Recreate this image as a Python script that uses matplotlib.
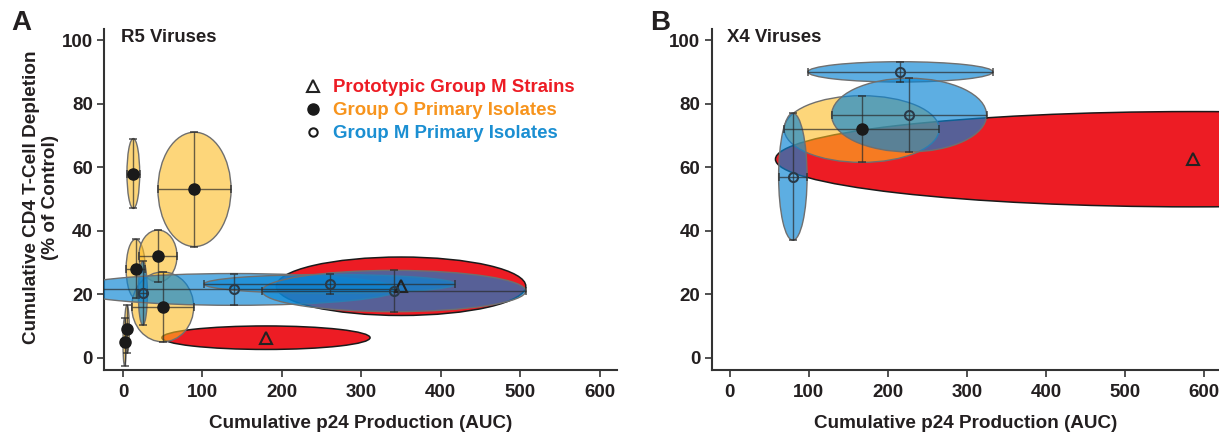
import matplotlib
matplotlib.use("Agg")
import matplotlib.pyplot as plt
from matplotlib.patches import Ellipse
from matplotlib.lines import Line2D

plt.rcParams['font.family'] = ['Liberation Sans', 'DejaVu Sans']
plt.rcParams['font.weight'] = 'bold'

# ---------------- data ----------------
# Panel A (R5 viruses)
a_proto_x = [180, 350]
a_proto_y = [6.3, 22.5]
a_proto_xerr = [131, 157]
a_proto_yerr = [3.7, 9.2]

a_grpO_x = [13, 90, 16, 44, 50, 5, 2]
a_grpO_y = [58, 53, 28, 32, 16, 9, 5]
a_grpO_xerr = [8, 46, 12, 24, 39, 3, 2]
a_grpO_yerr = [11, 18, 9.3, 8.2, 11, 7.6, 7.5]

a_grpM_x = [25, 140, 260, 341]
a_grpM_y = [20.3, 21.5, 23.2, 21]
a_grpM_xerr = [5.7, 206, 158, 166]
a_grpM_yerr = [10, 5, 3, 6.5]

# Panel B (X4 viruses)
b_proto_x = [586]
b_proto_y = [62.5]
b_proto_xerr = [528]
b_proto_yerr = [15]

b_grpO_x = [167]
b_grpO_y = [72]
b_grpO_xerr = [98]
b_grpO_yerr = [10.5]

b_grpM_x = [216, 227, 80]
b_grpM_y = [90, 76.4, 57]
b_grpM_xerr = [117, 98, 18]
b_grpM_yerr = [3.2, 11.6, 20]

x_ticks = [0, 100, 200, 300, 400, 500, 600]
y_ticks = [0, 20, 40, 60, 80, 100]
legend_labels = ["Prototypic Group M Strains", "Group O Primary Isolates", "Group M Primary Isolates"]

# ---------------- style ----------------
RED = (237/255, 28/255, 36/255, 1.0)
YEL = (253/255, 187/255, 33/255, 0.6)
BLU = (9/255, 133/255, 212/255, 0.66)
LBL_RED = '#ED1C24'
LBL_ORG = '#F7941D'
LBL_BLU = '#1B8FD2'
SPINE = '#333333'
TXT = '#231F20'

W, H = 1219, 432
fig = plt.figure(figsize=(W/100, H/100), dpi=100)

AX_BOT, AX_TOP = 370, 29
axA = fig.add_axes([104/W, 1-AX_BOT/H, (616.6-104)/W, (AX_BOT-AX_TOP)/H])
axB = fig.add_axes([711.5/W, 1-AX_BOT/H, (1219-711.5)/W, (AX_BOT-AX_TOP)/H])


def ellipses(ax, xs, ys, xe, ye, face, edge, lw, z):
    for x, y, a, b in zip(xs, ys, xe, ye):
        ax.add_patch(Ellipse((x, y), 2*a, 2*b, facecolor=face, edgecolor=edge,
                             linewidth=lw, zorder=z))


def crosses(ax, xs, ys, xe, ye):
    ax.errorbar(xs, ys, xerr=xe, yerr=ye, fmt='none', ecolor='#2a2a2a', elinewidth=1.0,
                capsize=3, capthick=1.3, alpha=0.7, zorder=4)


def panel(ax, px, py, pxe, pye, ox, oy, oxe, oye, mx, my, mxe, mye, xlim):
    ellipses(ax, px, py, pxe, pye, RED, '#1a1a1a', 1.1, 1)
    ellipses(ax, ox, oy, oxe, oye, YEL, '#6f6f6f', 1.0, 2)
    ellipses(ax, mx, my, mxe, mye, BLU, '#6f6f6f', 1.0, 3)
    crosses(ax, ox, oy, oxe, oye)
    crosses(ax, mx, my, mxe, mye)
    ax.plot(px, py, ls='none', marker='^', ms=8, mfc='none', mec='#222222', mew=1.5, zorder=6)
    ax.plot(ox, oy, ls='none', marker='o', ms=8, mfc='#1a1a1a', mec='#1a1a1a', zorder=6)
    ax.plot(mx, my, ls='none', marker='o', ms=6.5, mfc='none', mec='#2a3a48', mew=1.5, zorder=6)
    ax.set_xlim(*xlim)
    ax.set_ylim(-3.87, 103.5)
    ax.set_xticks(x_ticks)
    ax.set_yticks(y_ticks)
    for s in ['top', 'right']:
        ax.spines[s].set_visible(False)
    for s in ['left', 'bottom']:
        ax.spines[s].set_color(SPINE)
        ax.spines[s].set_linewidth(1.5)
    ax.tick_params(direction='out', length=5, width=1.2, color=SPINE, labelsize=13.5,
                   labelcolor=TXT)
    ax.tick_params(axis='x', pad=5)
    ax.tick_params(axis='y', pad=3)
    for lab in ax.get_xticklabels() + ax.get_yticklabels():
        lab.set_fontweight('bold')
    ax.set_xlabel('Cumulative p24 Production (AUC)', fontsize=13.6, fontweight='bold',
                  color=TXT, va='center')
    ax.xaxis.set_label_coords(0.5, (AX_BOT-423)/(AX_BOT-AX_TOP))
    ax.set_facecolor('none')


panel(axA, a_proto_x, a_proto_y, a_proto_xerr, a_proto_yerr,
      a_grpO_x, a_grpO_y, a_grpO_xerr, a_grpO_yerr,
      a_grpM_x, a_grpM_y, a_grpM_xerr, a_grpM_yerr, (-23.9, 621.3))
panel(axB, b_proto_x, b_proto_y, b_proto_xerr, b_proto_yerr,
      b_grpO_x, b_grpO_y, b_grpO_xerr, b_grpO_yerr,
      b_grpM_x, b_grpM_y, b_grpM_xerr, b_grpM_yerr, (-22.9, 619.0))

axA.set_ylabel('Cumulative CD4 T-Cell Depletion\n(% of Control)', fontsize=13.6,
               fontweight='bold', color=TXT, linespacing=1.1, va='center')
axA.yaxis.set_label_coords((41-104)/(616.6-104), (AX_BOT-197)/(AX_BOT-AX_TOP))

axA.text(121/W, 1-37/H, 'R5 Viruses', transform=fig.transFigure, fontsize=13.4,
         fontweight='bold', color=TXT, va='center', ha='left')
axB.text(727/W, 1-37/H, 'X4 Viruses', transform=fig.transFigure, fontsize=13.4,
         fontweight='bold', color=TXT, va='center', ha='left')

fig.text(11/W, 1-23/H, 'A', fontsize=20, fontweight='bold', color=TXT, va='center', ha='left')
fig.text(650/W, 1-23/H, 'B', fontsize=20, fontweight='bold', color=TXT, va='center', ha='left')

handles = [
    Line2D([], [], ls='none', marker='^', ms=8, mfc='none', mec='#222222', mew=1.5),
    Line2D([], [], ls='none', marker='o', ms=8, mfc='#1a1a1a', mec='#1a1a1a'),
    Line2D([], [], ls='none', marker='o', ms=6, mfc='none', mec='#1a1a1a', mew=1.5),
]
leg = axA.legend(handles, legend_labels, loc='upper left', bbox_to_anchor=(294/W, 1-70/H),
                 bbox_transform=fig.transFigure, frameon=False, handlelength=1.0,
                 handletextpad=0.62, labelspacing=0.32, borderpad=0,
                 prop={'weight': 'bold', 'size': 13.4})
for t, c in zip(leg.get_texts(), [LBL_RED, LBL_ORG, LBL_BLU]):
    t.set_color(c)

fig.savefig('out.png', dpi=100)
